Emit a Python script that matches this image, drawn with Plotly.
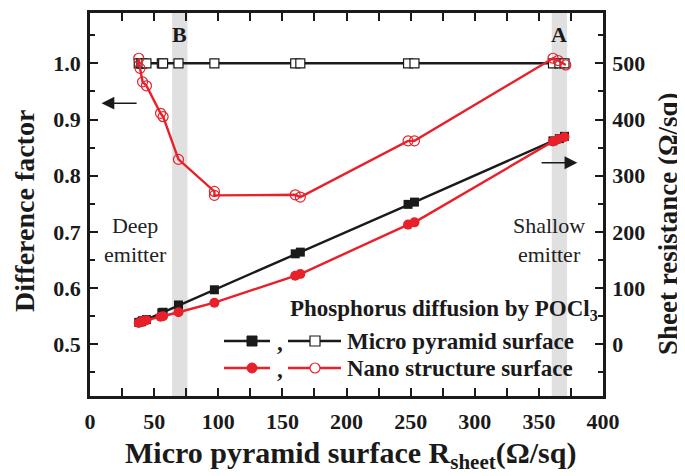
import plotly.graph_objects as go

# ---- data ----
x_micro = [38, 40, 41, 44, 56, 57, 69, 97, 160, 164, 248, 253, 361, 366, 370]
micro_factor = [1.0] * 15
micro_rsheet = [39, 40, 42, 44, 56, 57, 70, 97, 161, 164, 249, 253, 362, 366, 370]

x_nano = [38, 39, 41, 44, 55, 57, 69, 97, 97, 160, 164, 248, 253, 361, 365, 371]
nano_factor = [1.009, 0.991, 0.967, 0.960, 0.911, 0.905, 0.829, 0.772, 0.765, 0.766, 0.762, 0.862, 0.862, 1.009, 1.005, 0.997]
x_nano_r = [38, 40, 42, 44, 55, 57, 69, 97, 160, 164, 248, 253, 361, 365, 370]
nano_rsheet = [38, 40, 42, 43, 49, 50, 57, 74, 122, 125, 213, 217, 361, 365, 369]

bands = [(64, 76, "B"), (360, 372, "A")]

BLACK = "#1a1a1a"
RED = "#e8202a"
FONT = "Liberation Serif"

fig = go.Figure()

# sheet resistance (filled, right axis)
fig.add_trace(go.Scatter(x=x_micro, y=micro_rsheet, yaxis="y2", mode="lines+markers",
                         line=dict(color=BLACK, width=2.4),
                         marker=dict(symbol="square", size=9, color=BLACK), showlegend=False))
fig.add_trace(go.Scatter(x=x_nano_r, y=nano_rsheet, yaxis="y2", mode="lines+markers",
                         line=dict(color=RED, width=2.4),
                         marker=dict(symbol="circle", size=10, color=RED), showlegend=False))
# difference factor (open, left axis)
fig.add_trace(go.Scatter(x=x_micro, y=micro_factor, mode="lines+markers",
                         line=dict(color=BLACK, width=2.4),
                         marker=dict(symbol="square", size=9, color="white", line=dict(color=BLACK, width=1.2)),
                         showlegend=False))
fig.add_trace(go.Scatter(x=x_nano, y=nano_factor, mode="lines+markers",
                         line=dict(color=RED, width=2.4),
                         marker=dict(symbol="circle", size=10, color="rgba(255,255,255,0)", line=dict(color=RED, width=1.2)),
                         showlegend=False))

OFF = 8  # page body margin
L, R, T, B = 90 - OFF, 603 - OFF, 13 - OFF, 396 - OFF
W, H = R - L, B - T

def px(xp):  # screen pixel -> paper
    return (xp - OFF - L) / float(W)
def py(yp):
    return (B - (yp - OFF)) / float(H)

def text(xp, yp, s, size, xanchor="center", color=BLACK, angle=0):
    return dict(x=px(xp), y=py(yp), xref="paper", yref="paper", text=s, showarrow=False,
                xanchor=xanchor, yanchor="middle", align="center", textangle=angle,
                font=dict(family=FONT, size=size, color=color))

shapes = []
annotations = []
for x0, x1, lab in bands:
    shapes.append(dict(type="rect", xref="x", yref="paper", x0=x0, x1=x1, y0=0, y1=1,
                       fillcolor="#e0e0e0", line=dict(width=0), layer="below"))
    annotations.append(dict(x=(x0 + x1) / 2, y=py(34), xref="x", yref="paper", text="<b>%s</b>" % lab,
                            xanchor="center", yanchor="middle",
                            showarrow=False, font=dict(family=FONT, size=22, color=BLACK)))

# arrows
annotations.append(dict(x=9, y=0.929, ax=37.5, ay=0.929, xref="x", yref="y", axref="x", ayref="y",
                        text="", showarrow=True, arrowhead=2, arrowsize=1.6, arrowwidth=1.6, arrowcolor=BLACK))
annotations.append(dict(x=380, y=0.823, ax=351, ay=0.823, xref="x", yref="y", axref="x", ayref="y",
                        text="", showarrow=True, arrowhead=2, arrowsize=1.6, arrowwidth=1.6, arrowcolor=BLACK))

annotations.append(text(135, 240, "Deep<br>emitter", 22, color="#222"))
annotations.append(text(549, 240, "Shallow<br>emitter", 22, color="#222"))

# custom legend
LF = 23
annotations.append(text(288, 310, "<b>Phosphorus diffusion by POCl<sub>3</sub></b>", LF, xanchor="left"))
rows = [(341, BLACK, "square", "Micro pyramid surface"), (368, RED, "circle", "Nano structure surface")]
for yp, col, sym, lab in rows:
    shapes.append(dict(type="line", xref="paper", yref="paper", x0=px(224), x1=px(270), y0=py(yp), y1=py(yp),
                       line=dict(color=col, width=2.4)))
    shapes.append(dict(type="line", xref="paper", yref="paper", x0=px(288), x1=px(341), y0=py(yp), y1=py(yp),
                       line=dict(color=col, width=2.4)))
    r = 5
    kind = "rect" if sym == "square" else "circle"
    shapes.append(dict(type=kind, xref="paper", yref="paper", x0=px(252 - r), x1=px(252 + r),
                       y0=py(yp + r), y1=py(yp - r), fillcolor=col, line=dict(color=col, width=1)))
    shapes.append(dict(type=kind, xref="paper", yref="paper", x0=px(315 - r), x1=px(315 + r),
                       y0=py(yp + r), y1=py(yp - r), fillcolor="white", line=dict(color=col, width=1.2)))
    annotations.append(text(280, yp + 1, "<b>,</b>", LF))
    annotations.append(text(345, yp, "<b>%s</b>" % lab, LF, xanchor="left"))

# axis titles
annotations.append(text(350, 455, "<b>Micro pyramid surface R<sub>sheet</sub>(Ω/sq)</b>", 30))
annotations.append(text(25, 211, "<b>Difference factor</b>", 28, angle=-90))
annotations.append(text(668, 224, "<b>Sheet resistance (Ω/sq)</b>", 27, angle=-90))

tickfont = dict(family=FONT, size=22, color=BLACK, weight="bold")
axis_common = dict(showgrid=False, zeroline=False, showline=True, linecolor=BLACK, linewidth=2.5,
                   ticks="inside", ticklen=8, tickwidth=2, tickcolor=BLACK, tickfont=tickfont,
                   automargin=False)

fig.update_layout(
    width=685, height=476,
    margin=dict(l=L, r=685 - R, t=T, b=476 - B),
    plot_bgcolor="white", paper_bgcolor="white",
    xaxis=dict(range=[0, 400], dtick=50, tick0=0, mirror="allticks", ticklabelstandoff=4,
               minor=dict(dtick=25, ticks="inside", ticklen=5, tickwidth=2, tickcolor=BLACK),
               **axis_common),
    yaxis=dict(range=[0.408, 1.0895], dtick=0.1, tick0=0.5, tickformat=".1f", ticklabelstandoff=2,
               minor=dict(dtick=0.05, ticks="inside", ticklen=5, tickwidth=2, tickcolor=BLACK),
               **axis_common),
    yaxis2=dict(range=[-92, 589.5], overlaying="y", side="right", ticklabelstandoff=2,
                tickvals=[0, 100, 200, 300, 400, 500],
                minor=dict(tickvals=[-50, 50, 150, 250, 350, 450, 550], ticks="inside", ticklen=5, tickwidth=2, tickcolor=BLACK),
                **axis_common),
    shapes=shapes,
    annotations=annotations,
)

fig.write_html("out.html")
